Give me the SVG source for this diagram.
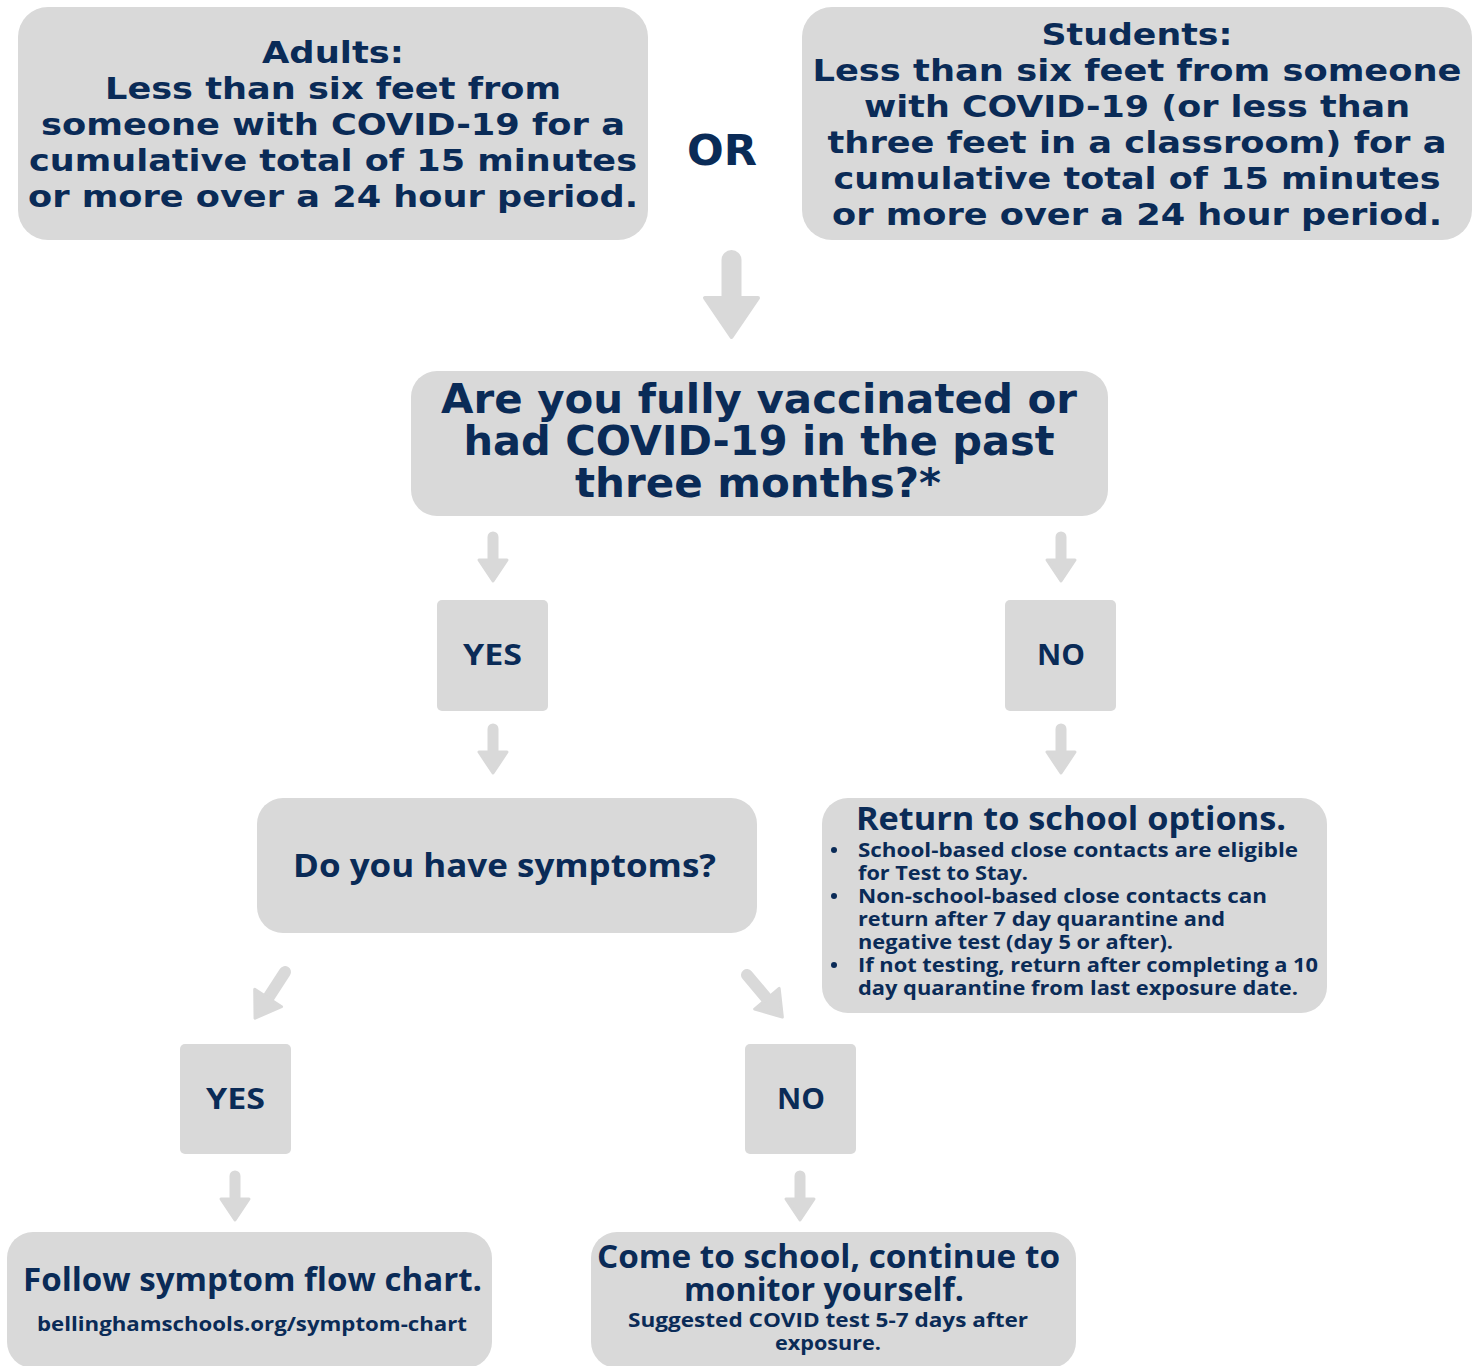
<svg xmlns="http://www.w3.org/2000/svg" xmlns:xlink="http://www.w3.org/1999/xlink" width="1484" height="1366" viewBox="0 0 1484 1366">
<style>
.box{fill:#d9d9d9;}
.t{fill:#0a2b57;font-family:"DejaVu Sans","Liberation Sans",sans-serif;text-anchor:middle;}
.h{font-weight:bold;font-size:31px;}
.q{font-weight:bold;font-size:40px;}
.m{font-family:"Open Sans","DejaVu Sans",sans-serif;font-weight:700;font-size:32px;}
.y{font-family:"Open Sans","DejaVu Sans",sans-serif;font-weight:700;font-size:29px;}
.s{font-family:"Open Sans","DejaVu Sans",sans-serif;font-weight:700;font-size:20px;}
.b{fill:#0a2b57;font-family:"Open Sans","DejaVu Sans",sans-serif;font-weight:700;font-size:20px;}
.arr{fill:#d9d9d9;stroke:#d9d9d9;stroke-linejoin:round;}
</style>
<defs>
<g id="sa">
<line x1="0" y1="0" x2="0" y2="26" stroke="#d9d9d9" stroke-width="11" stroke-linecap="round"/>
<polygon class="arr" stroke-width="3" points="-14,23 14,23 0,44"/>
</g>
<g id="la">
<line x1="0" y1="0" x2="0" y2="36" stroke="#d9d9d9" stroke-width="12" stroke-linecap="round"/>
<polygon class="arr" stroke-width="3" points="-16,31 16,31 0,55"/>
</g>
</defs>
<rect width="1484" height="1366" fill="#ffffff"/>

<g id="connectors">
<line x1="731.5" y1="260" x2="731.5" y2="300" stroke="#d9d9d9" stroke-width="20" stroke-linecap="round"/>
<polygon class="arr" stroke-width="4" points="705,298 758,298 731.5,337"/>
<use xlink:href="#sa" transform="translate(493,537)"/>
<use xlink:href="#sa" transform="translate(1061,537)"/>
<use xlink:href="#sa" transform="translate(493,729)"/>
<use xlink:href="#sa" transform="translate(1061,729)"/>
<use xlink:href="#la" transform="translate(285,972) rotate(33)"/>
<use xlink:href="#la" transform="translate(747,975) rotate(-40)"/>
<use xlink:href="#sa" transform="translate(235,1176)"/>
<use xlink:href="#sa" transform="translate(800,1176)"/>
</g>

<g id="adults">
<rect class="box" x="18" y="7" width="630" height="233" rx="30"/>
<text class="t h" x="333" y="63" textLength="142" lengthAdjust="spacingAndGlyphs">Adults:</text>
<text class="t h" x="333" y="99" textLength="456" lengthAdjust="spacingAndGlyphs">Less than six feet from</text>
<text class="t h" x="333" y="135" textLength="584" lengthAdjust="spacingAndGlyphs">someone with COVID-19 for a</text>
<text class="t h" x="333" y="171" textLength="608" lengthAdjust="spacingAndGlyphs">cumulative total of 15 minutes</text>
<text class="t h" x="333" y="207" textLength="610" lengthAdjust="spacingAndGlyphs">or more over a 24 hour period.</text>
</g>

<g id="or">
<text class="t" x="722" y="165" font-weight="bold" font-size="42" textLength="70" lengthAdjust="spacingAndGlyphs">OR</text>
</g>

<g id="students">
<rect class="box" x="802" y="7" width="670" height="233" rx="30"/>
<text class="t h" x="1137" y="45" textLength="191" lengthAdjust="spacingAndGlyphs">Students:</text>
<text class="t h" x="1137" y="81" textLength="649" lengthAdjust="spacingAndGlyphs">Less than six feet from someone</text>
<text class="t h" x="1137" y="117" textLength="546" lengthAdjust="spacingAndGlyphs">with COVID-19 (or less than</text>
<text class="t h" x="1137" y="153" textLength="619" lengthAdjust="spacingAndGlyphs">three feet in a classroom) for a</text>
<text class="t h" x="1137" y="189" textLength="607" lengthAdjust="spacingAndGlyphs">cumulative total of 15 minutes</text>
<text class="t h" x="1137" y="225" textLength="610" lengthAdjust="spacingAndGlyphs">or more over a 24 hour period.</text>
</g>

<g id="question">
<rect class="box" x="411" y="371" width="697" height="145" rx="26"/>
<text class="t q" x="759" y="413" textLength="636" lengthAdjust="spacingAndGlyphs">Are you fully vaccinated or</text>
<text class="t q" x="759" y="455" textLength="591" lengthAdjust="spacingAndGlyphs">had COVID-19 in the past</text>
<text class="t q" x="758" y="497" textLength="366" lengthAdjust="spacingAndGlyphs">three months?*</text>
</g>

<g id="yes1">
<rect class="box" x="437" y="600" width="111" height="111" rx="5"/>
<text class="t y" x="492.5" y="665" textLength="59" lengthAdjust="spacingAndGlyphs">YES</text>
</g>

<g id="no1">
<rect class="box" x="1005" y="600" width="111" height="111" rx="5"/>
<text class="t y" x="1061" y="665" textLength="48" lengthAdjust="spacingAndGlyphs">NO</text>
</g>

<g id="symptoms">
<rect class="box" x="257" y="798" width="500" height="135" rx="26"/>
<text class="t m" x="504.5" y="877" textLength="423" lengthAdjust="spacingAndGlyphs">Do you have symptoms?</text>
</g>

<g id="return">
<rect class="box" x="822" y="798" width="505" height="215" rx="26"/>
<text class="t m" x="1071" y="830" textLength="430" lengthAdjust="spacingAndGlyphs">Return to school options.</text>
<circle cx="834" cy="850" r="3" fill="#0a2b57"/>
<circle cx="834" cy="896" r="3" fill="#0a2b57"/>
<circle cx="834" cy="965" r="3" fill="#0a2b57"/>
<text class="b" x="858" y="857" textLength="440" lengthAdjust="spacingAndGlyphs">School-based close contacts are eligible</text>
<text class="b" x="858" y="880" textLength="170" lengthAdjust="spacingAndGlyphs">for Test to Stay.</text>
<text class="b" x="858" y="903" textLength="409" lengthAdjust="spacingAndGlyphs">Non-school-based close contacts can</text>
<text class="b" x="858" y="926" textLength="367" lengthAdjust="spacingAndGlyphs">return after 7 day quarantine and</text>
<text class="b" x="858" y="949" textLength="315" lengthAdjust="spacingAndGlyphs">negative test (day 5 or after).</text>
<text class="b" x="858" y="972" textLength="460" lengthAdjust="spacingAndGlyphs">If not testing, return after completing a 10</text>
<text class="b" x="858" y="995" textLength="440" lengthAdjust="spacingAndGlyphs">day quarantine from last exposure date.</text>
</g>

<g id="yes2">
<rect class="box" x="180" y="1044" width="111" height="110" rx="5"/>
<text class="t y" x="235.5" y="1109" textLength="59" lengthAdjust="spacingAndGlyphs">YES</text>
</g>

<g id="no2">
<rect class="box" x="745" y="1044" width="111" height="110" rx="5"/>
<text class="t y" x="801" y="1109" textLength="48" lengthAdjust="spacingAndGlyphs">NO</text>
</g>

<g id="follow">
<rect class="box" x="7" y="1232" width="485" height="136" rx="26"/>
<text class="t m" x="252.5" y="1291" textLength="459" lengthAdjust="spacingAndGlyphs">Follow symptom flow chart.</text>
<text class="t s" x="252" y="1331" textLength="430" lengthAdjust="spacingAndGlyphs">bellinghamschools.org/symptom-chart</text>
</g>

<g id="come">
<rect class="box" x="591" y="1232" width="485" height="136" rx="26"/>
<text class="t m" x="828.5" y="1268" textLength="463" lengthAdjust="spacingAndGlyphs">Come to school, continue to</text>
<text class="t m" x="824" y="1301" textLength="280" lengthAdjust="spacingAndGlyphs">monitor yourself.</text>
<text class="t s" x="828" y="1327" textLength="400" lengthAdjust="spacingAndGlyphs">Suggested COVID test 5-7 days after</text>
<text class="t s" x="828" y="1350" textLength="106" lengthAdjust="spacingAndGlyphs">exposure.</text>
</g>
</svg>
